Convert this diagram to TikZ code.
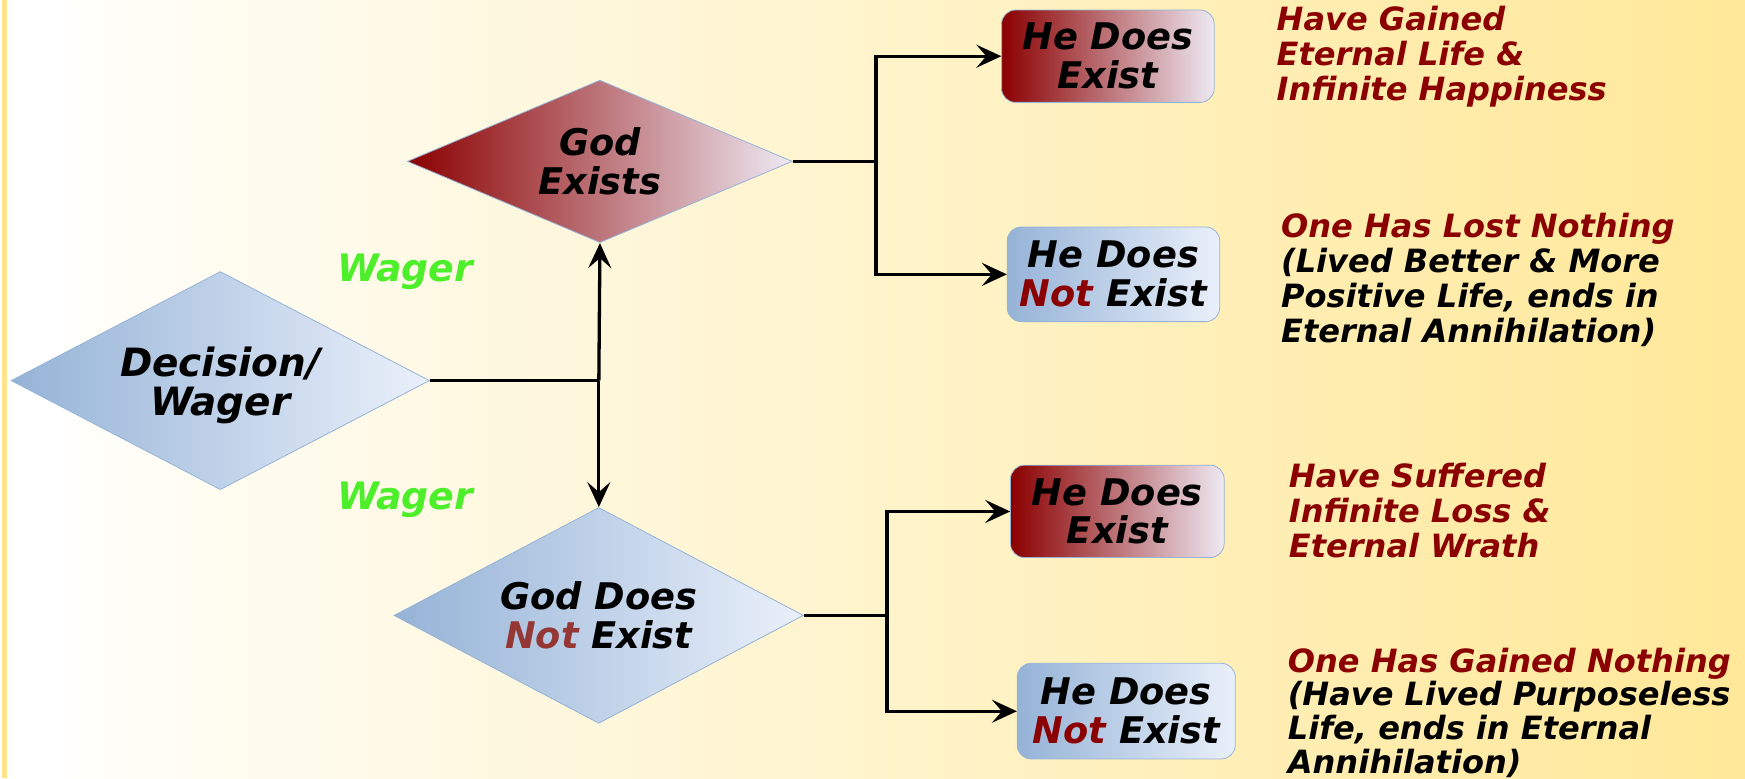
\documentclass[tikz,border=0pt]{standalone}
\usepackage{fontspec}
\setmainfont{DejaVu Sans}
\usetikzlibrary{shapes.geometric,arrows.meta}
\definecolor{dred}{HTML}{8B0000}
\definecolor{nred}{HTML}{953735}
\definecolor{bluel}{HTML}{95B3D7}
\definecolor{bluer}{HTML}{EAF0FA}
\definecolor{redr}{HTML}{EEE9F3}
\definecolor{wgreen}{HTML}{4DEF2B}
\definecolor{bgyel}{HTML}{FFE899}
\definecolor{stripc}{HTML}{FFE48C}
\definecolor{bgl}{HTML}{FFFEFA}
\tikzset{
 bi/.style={font=\bfseries\itshape\fontsize{33}{35}\selectfont},
 dia/.style={diamond, draw=bluel, line width=0.8pt, inner sep=0pt, align=center, bi},
 bluefill/.style={left color=bluel, right color=bluer},
 redfill/.style={left color=dred, right color=redr},
 outbox/.style={rectangle, rounded corners=14pt, draw=bluel, line width=0.8pt, inner sep=0pt, align=center, bi},
 conn/.style={line width=3.3pt, draw=black},
 arr/.style={conn, -{Stealth[length=25pt,width=23pt,inset=10pt]}},
 note/.style={anchor=north west, inner sep=0pt, align=left, text=black, font=\bfseries\itshape\fontsize{28.8}{31.5}\selectfont},
 wagerlbl/.style={text=wgreen, inner sep=0pt, font=\bfseries\itshape\fontsize{34}{36}\selectfont}
}
\begin{document}
\begin{tikzpicture}[x=1pt,y=-1pt,scale=1.1129,every node/.append style={transform shape}]
\useasboundingbox (0,0) rectangle (1568,699.1);
% background
\fill[white] (0,0) rectangle (1568,699.1);
\shade[left color=bgl, right color=bgyel] (58,0) rectangle (1568,699.1);
\fill[stripc] (1.8,0) rectangle (6.3,699.1);

% diamonds
\node[dia, bluefill, minimum width=376pt, minimum height=196pt, shape aspect=1.92, font=\bfseries\itshape\fontsize{35}{35}\selectfont] (dec) at (198,342) {\rule{0pt}{35pt}Decision/\\Wager};
\node[dia, redfill, minimum width=346pt, minimum height=146pt, shape aspect=2.37] (ge) at (539,145) {God\\Exists};
\node[dia, bluefill, minimum width=368pt, minimum height=194pt, shape aspect=1.9] (gn) at (538,553) {God Does\\{\color{nred}Not} Exist};

% outcome boxes
\node[outbox, redfill, minimum width=191pt, minimum height=83pt] (b1) at (995.5,50.5) {He Does\\Exist};
\node[outbox, bluefill, minimum width=191pt, minimum height=85pt] (b2) at (1000.5,246.5) {He Does\\{\color{dred}Not} Exist};
\node[outbox, redfill, minimum width=192pt, minimum height=83pt] (b3) at (1004,459.5) {He Does\\Exist};
\node[outbox, bluefill, minimum width=196pt, minimum height=86pt] (b4) at (1012,639) {He Does\\{\color{dred}Not} Exist};

% wager labels
\node[wagerlbl] (w1) at (364,244) {Wager};
\node[wagerlbl] (w2) at (364,449) {Wager};

% notes
\node[note, text=dred] (n1) at (1147,5) {Have Gained\\Eternal Life \&\\Infinite Happiness};
\node[note] (n2) at (1151,191) {{\color{dred}One Has Lost Nothing}\\(Lived Better \& More\\Positive Life, ends in\\Eternal Annihilation)};
\node[note, text=dred] (n3) at (1158,416) {Have Suffered\\Infinite Loss \&\\Eternal Wrath};
\node[note, font=\bfseries\itshape\fontsize{28.8}{30.3}\selectfont] (n4) at (1157,582) {{\color{dred}One Has Gained Nothing}\\(Have Lived Purposeless\\Life, ends in Eternal\\Annihilation)};

% connectors
\coordinate (j1) at (538,342);
\draw[conn] (dec.east) -- (j1);
\draw[arr] (j1) -- (ge.south);
\draw[arr] (j1) -- (gn.north);

\coordinate (j2) at (787,145);
\draw[conn] (ge.east) -- (j2);
\draw[arr] (j2) |- (b1.west);
\draw[arr] (j2) |- (b2.west);

\coordinate (j3) at (797,553);
\draw[conn] (gn.east) -- (j3);
\draw[arr] (j3) |- (b3.west);
\draw[arr] (j3) |- (b4.west);
\end{tikzpicture}
\end{document}
